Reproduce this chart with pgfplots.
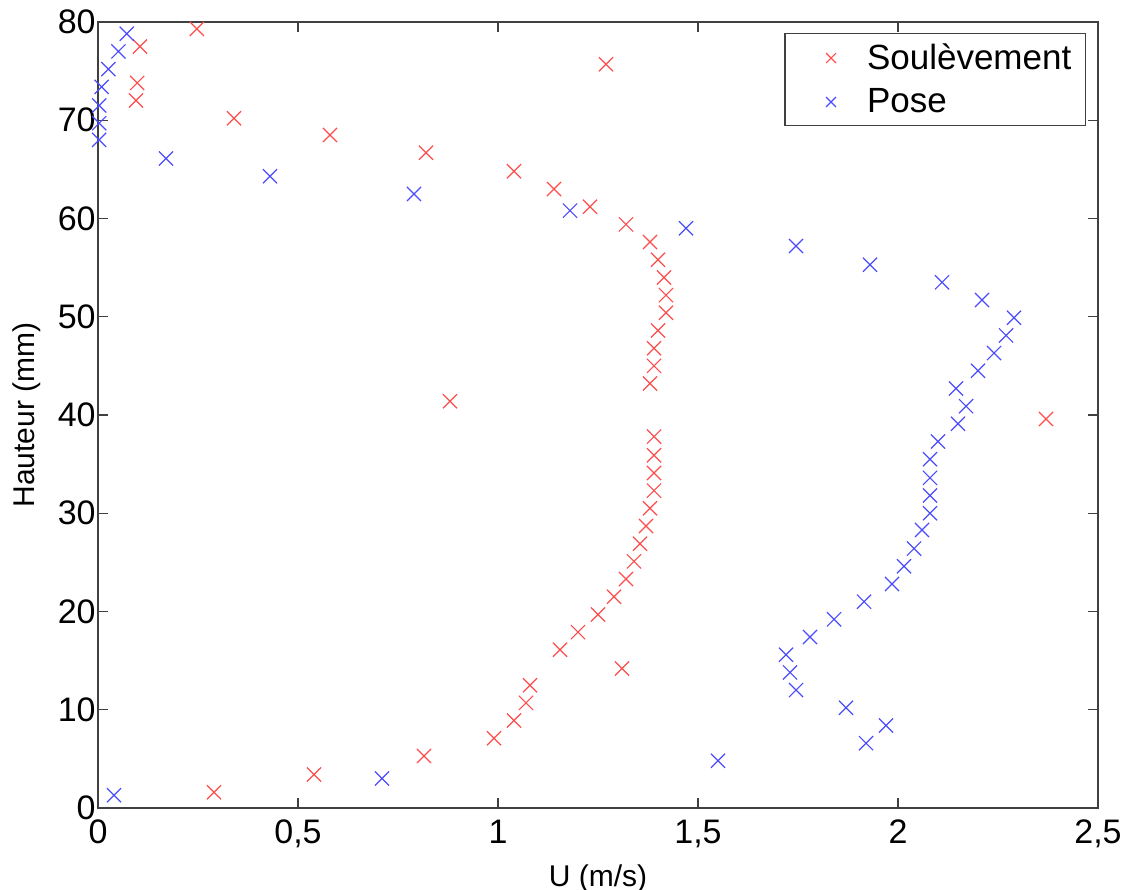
\documentclass[border=0pt]{standalone}
\usepackage{fontspec}
\setmainfont{Liberation Sans}
\usepackage{pgfplots}
\pgfplotsset{compat=1.18}
\definecolor{sred}{rgb}{1,0.3,0.3}
\definecolor{sblue}{rgb}{0.3,0.3,1}
\begin{document}
\begin{tikzpicture}
\begin{axis}[
  scale only axis,
  width=500pt, height=393pt,
  xmin=0, xmax=2.5, ymin=0, ymax=80,
  xtick={0,0.5,1,1.5,2,2.5},
  ytick={0,10,20,30,40,50,60,70,80},
  tick align=inside,
  major tick length=5pt,
  axis line style={line width=0.8pt, black!75},
  tick style={line width=0.7pt, black!75},
  /pgf/number format/assume math mode=true,
  /pgf/number format/use comma,
  ticklabel style={font=\fontsize{17}{20}\selectfont},
  yticklabel style={inner sep=1pt},
  xticklabel style={yshift=-2.5pt},
  xlabel={U (m/s)},
  ylabel={Hauteur (mm)},
  label style={font=\fontsize{15}{18}\selectfont},
  xlabel style={yshift=-1.5pt},
  ylabel style={yshift=4pt},
  legend style={at={(0.988,0.986)}, anchor=north east, draw=black!75, line width=0.7pt,
    font=\fontsize{17.5}{22}\selectfont, inner xsep=5pt, inner ysep=3pt, row sep=4pt,
    legend cell align=left},
  legend image code/.code={\path[draw=none,fill=none] (0pt,0pt) -- (34pt,0pt); \draw[mark size=3.5pt] plot coordinates {(18pt,0pt)};},
]
\addplot[only marks, mark=x, mark size=5pt, color=sred, mark options={line width=0.6pt}] coordinates {
(0.29,1.6) (0.54,3.4) (0.815,5.3) (0.99,7.1) (1.04,8.9) (1.07,10.7) (1.08,12.5)
(1.31,14.2) (1.155,16.1) (1.20,17.9) (1.25,19.7) (1.29,21.5) (1.32,23.3) (1.34,25.1)
(1.355,26.9) (1.37,28.7) (1.38,30.5) (1.39,32.3) (1.39,34.1) (1.39,35.9) (1.39,37.8)
(2.37,39.6) (0.88,41.4) (1.38,43.2) (1.39,45.0) (1.39,46.8) (1.40,48.6) (1.42,50.4)
(1.42,52.2) (1.415,54.0) (1.40,55.8) (1.38,57.6) (1.32,59.4) (1.23,61.2) (1.14,63.0)
(1.04,64.8) (0.82,66.7) (0.58,68.5) (0.34,70.2) (0.095,72.0) (0.098,73.8) (1.27,75.7)
(0.105,77.5) (0.247,79.3)
};
\addlegendentry{Soulèvement}
\addplot[only marks, mark=x, mark size=5pt, color=sblue, mark options={line width=0.6pt}] coordinates {
(0.04,1.3) (0.71,3.0) (1.55,4.8) (1.92,6.6) (1.97,8.4) (1.87,10.2) (1.745,12.0)
(1.73,13.8) (1.72,15.6) (1.78,17.4) (1.84,19.2) (1.915,21.0) (1.985,22.8) (2.015,24.6)
(2.04,26.4) (2.06,28.3) (2.08,30.0) (2.08,31.8) (2.08,33.6) (2.08,35.5) (2.10,37.3)
(2.15,39.1) (2.17,40.9) (2.145,42.7) (2.20,44.5) (2.24,46.3) (2.27,48.1) (2.29,49.9)
(2.21,51.7) (2.11,53.5) (1.93,55.3) (1.745,57.2) (1.47,59.0) (1.18,60.8) (0.79,62.5)
(0.43,64.3) (0.17,66.1) (0.003,68.0) (0.003,69.7) (0.003,71.5) (0.009,73.4) (0.026,75.2)
(0.051,77.0) (0.072,78.8)
};
\addlegendentry{Pose}
\end{axis}
\pgfresetboundingbox
\path[use as bounding box] ([shift={(-49pt,-41pt)}]current axis.south west) rectangle ([shift={(15pt,11pt)}]current axis.north east);
\end{tikzpicture}
\end{document}
